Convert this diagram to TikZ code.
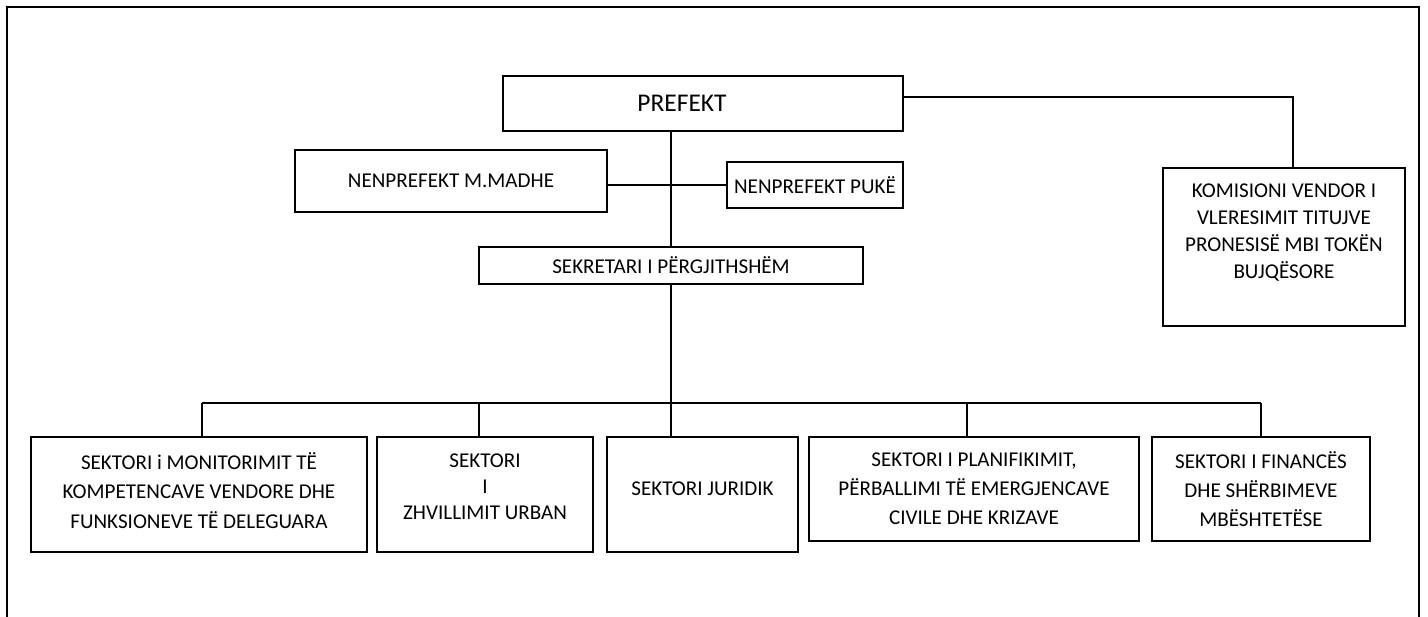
\documentclass[tikz,border=0pt]{standalone}
\usepackage{fontspec}
\setmainfont{Carlito}
\usetikzlibrary{shapes, positioning}
\tikzstyle{block} = [draw, rectangle, line width=1pt, align=center, inner sep=2pt, font=\fontsize{12}{16.4}\selectfont]
\tikzstyle{top} = [block, font=\fontsize{14.5}{18}\selectfont]
\tikzstyle{sector} = [block, font=\fontsize{12}{16.6}\selectfont]
\tikzstyle{support} = [coordinate]

\begin{document}
\begin{tikzpicture}[x=0.02cm,y=-0.02cm,line width=1pt]
\useasboundingbox (0,0) rectangle (1428,617);
\draw (7,617) -- (7,7) -- (1419,7) -- (1419,617);

\node [top, minimum width=8cm, minimum height=1.1cm] (prefekt) at (703,103.5) {PREFEKT\hspace*{0.84cm}};
\node [block, minimum width=6.24cm, minimum height=1.24cm] (madhe) at (451,181) {NENPREFEKT M.MADHE};
\node [block, minimum width=3.52cm, minimum height=0.92cm] (puke) at (815,185) {NENPREFEKT PUKË};
\node [block, minimum width=7.68cm, minimum height=0.74cm] (sekretar) at (671,265.5) {SEKRETARI I PËRGJITHSHËM};
\node [block, minimum width=4.84cm, minimum height=3.16cm, font=\fontsize{12}{15.3}\selectfont] (komision) at (1284,247)
  {KOMISIONI VENDOR I\\VLERESIMIT TITUJVE\\PRONESISË MBI TOKËN\\BUJQËSORE\\[0.1cm]\mbox{}};

\node [sector, minimum width=6.72cm, minimum height=2.3cm] (s1) at (199,494.5) {SEKTORI i MONITORIMIT TË\\KOMPETENCAVE VENDORE DHE\\FUNKSIONEVE TË DELEGUARA\\[-0.425cm]\mbox{}};
\node [sector, minimum width=4.32cm, minimum height=2.3cm, font=\fontsize{12}{14.75}\selectfont] (s2) at (485,494.5) {SEKTORI\\I\\ZHVILLIMIT URBAN\\[-0.22cm]\mbox{}};
\node [sector, minimum width=3.82cm, minimum height=2.3cm] (s3) at (702.5,494.5) {SEKTORI JURIDIK\\[-0.33cm]\mbox{}};
\node [sector, minimum width=6.6cm, minimum height=2.08cm] (s4) at (974,489) {SEKTORI I PLANIFIKIMIT,\\PËRBALLIMI TË EMERGJENCAVE\\CIVILE DHE KRIZAVE};
\node [sector, minimum width=4.36cm, minimum height=2.08cm] (s5) at (1261,489) {SEKTORI I FINANCËS\\DHE SHËRBIMEVE\\MBËSHTETËSE};

\node [support] (kbend) at (1293,97) {};
\node [support] (bus) at (671,403) {};

\draw (sekretar.north) -- (sekretar.north |- prefekt.south);
\draw (madhe.east |- puke.west) -- (puke.west);
\draw (prefekt.east |- kbend) -- (kbend) -- (kbend |- komision.north);
\draw (sekretar.south) -- (bus);
\draw (202,403) -- (1261,403);
\foreach \s/\x in {s1/202, s2/479, s3/671, s4/967, s5/1261}
  \draw (\x,403) -- (\x,403 |- \s.north);
\end{tikzpicture}
\end{document}
